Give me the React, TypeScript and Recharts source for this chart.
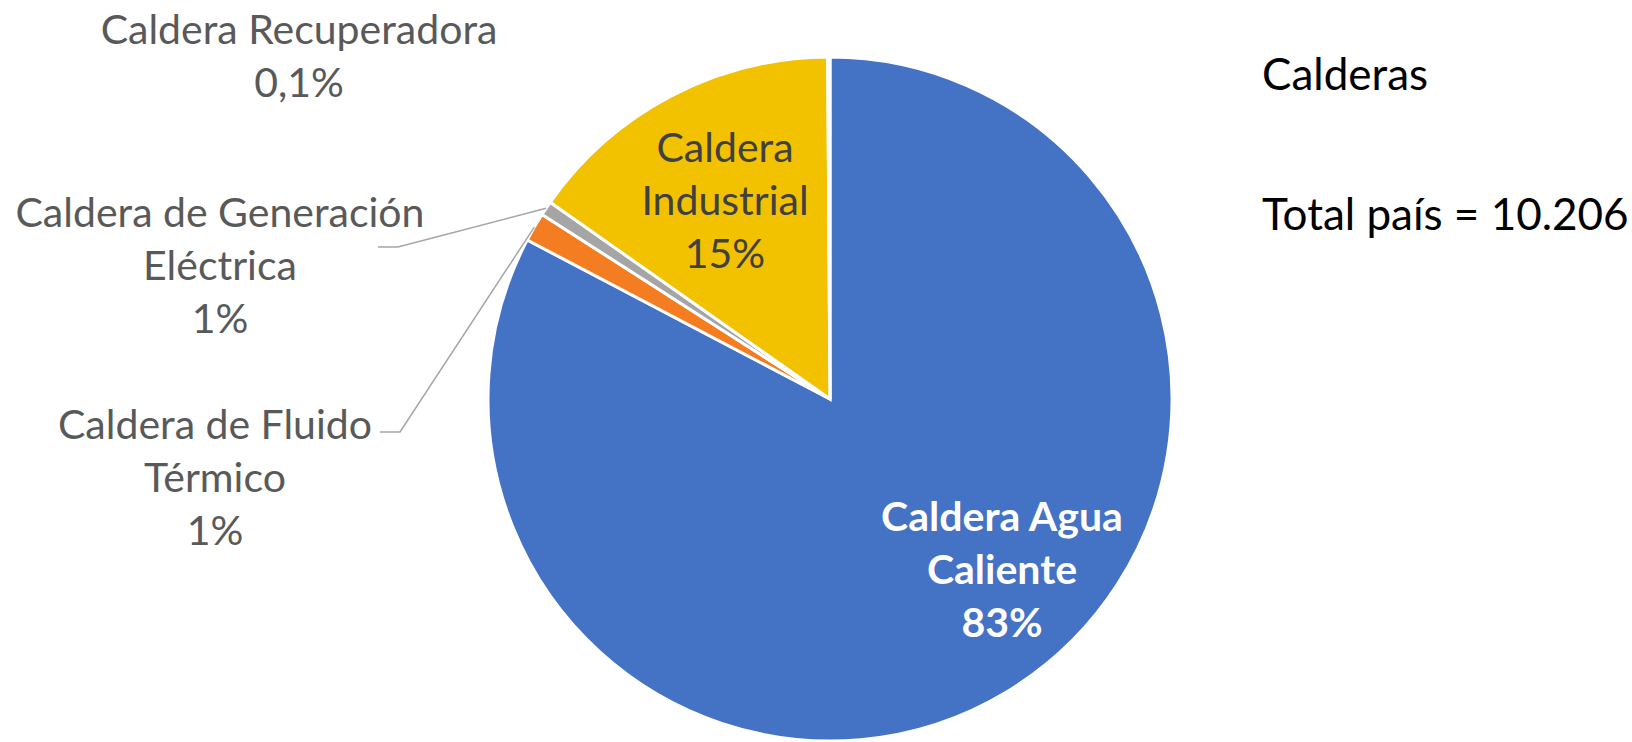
import { PieChart, Pie, Cell } from 'recharts'

// Calderas por tipo (total país = 10.206)
const names = [
  'Caldera Agua Caliente',
  'Caldera de Fluido Térmico',
  'Caldera de Generación Eléctrica',
  'Caldera Industrial',
  'Caldera Recuperadora',
]
const counts = [8440, 140, 70, 1545, 11]
const pctLabels = ['83%', '1%', '1%', '15%', '0,1%']
const labelLines = [
  ['Caldera Agua', 'Caliente'],
  ['Caldera de Fluido', 'Térmico'],
  ['Caldera de Generación', 'Eléctrica'],
  ['Caldera', 'Industrial'],
  ['Caldera Recuperadora'],
]
const COLORS = ['#4472C4', '#F47D22', '#A5A5A5', '#F2C100', '#5B9BD5']

const data = names.map((name, i) => ({ name, value: counts[i] }))

const FONT = 'Lato, "Open Sans", sans-serif'
const FS = 41
const LH = 53

// where each data label sits (first line centre), plus leader-line elbow if any
const LABEL_POS = [
  { x: 1002, y: 515, color: '#FFFFFF', bold: true },
  { x: 215, y: 423, color: '#595959', elbow: [400, 432], tail: 380 },
  { x: 220, y: 211, color: '#595959', elbow: [398, 247], tail: 378 },
  { x: 725, y: 146, color: '#404040' },
  { x: 299, y: 28, color: '#595959' },
]

const RADIAN = Math.PI / 180

function renderLabel(props: any) {
  const { cx, cy, midAngle, outerRadius, index } = props
  const pos = LABEL_POS[index]
  const lines = [...labelLines[index], pctLabels[index]]
  let leader = null
  if (pos.elbow) {
    const px = cx + outerRadius * Math.cos(-midAngle * RADIAN)
    const py = cy + outerRadius * Math.sin(-midAngle * RADIAN)
    leader = (
      <polyline
        points={`${px},${py} ${pos.elbow[0]},${pos.elbow[1]} ${pos.tail},${pos.elbow[1]}`}
        fill="none"
        stroke="#A6A6A6"
        strokeWidth={1.5}
      />
    )
  }
  return (
    <g key={`lbl-${index}`}>
      {leader}
      <text
        x={pos.x}
        y={pos.y}
        textAnchor="middle"
        dominantBaseline="central"
        fill={pos.color}
        fontFamily={FONT}
        fontSize={FS}
        fontWeight={pos.bold ? 700 : 400}
      >
        {lines.map((l, i) => (
          <tspan key={i} x={pos.x} dy={i === 0 ? 0 : LH}>
            {l}
          </tspan>
        ))}
      </text>
    </g>
  )
}

export default function App() {
  return (
    <div style={{ position: 'fixed', left: 0, top: 0, width: 1632, height: 742, background: '#FFFFFF' }}>
      <PieChart width={1632} height={742} margin={{ top: 0, right: 0, bottom: 0, left: 0 }}>
        <Pie
          data={data}
          dataKey="value"
          nameKey="name"
          cx={830}
          cy={399}
          outerRadius={342}
          startAngle={90}
          endAngle={-270}
          stroke="#FFFFFF"
          strokeWidth={3}
          label={renderLabel}
          labelLine={false}
          isAnimationActive={false}
        >
          {data.map((entry, index) => (
            <Cell key={`cell-${index}`} fill={COLORS[index % COLORS.length]} />
          ))}
        </Pie>
        <text x={1262} y={73} dominantBaseline="central" fontFamily={FONT} fontSize={44} fill="#000000">
          Calderas
        </text>
        <text x={1262} y={213} dominantBaseline="central" fontFamily={FONT} fontSize={44} fill="#000000">
          Total país = 10.206
        </text>
      </PieChart>
    </div>
  )
}
